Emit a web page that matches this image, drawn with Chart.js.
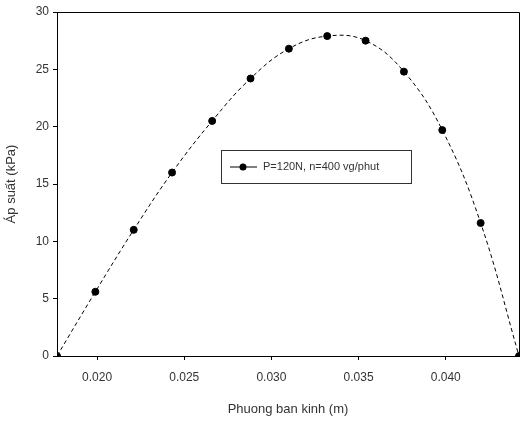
<!DOCTYPE html>
<html>
<head>
<meta charset="utf-8">
<script src="https://cdn.jsdelivr.net/npm/chart.js@4"></script>
<style>
  html, body { margin: 0; padding: 0; background: #fff; }
  #wrap { width: 524px; height: 421px; position: relative; }
</style>
</head>
<body>
<div id="wrap"><canvas id="c"></canvas></div>
<script>
// dữ liệu
const radius = [0.0177, 0.0199, 0.0221, 0.0243, 0.0266, 0.0288, 0.0310, 0.0332, 0.0354, 0.0376, 0.0398, 0.0420, 0.0442];
const pressure = [0, 5.6, 11.0, 16.0, 20.5, 24.2, 26.8, 27.9, 27.5, 24.8, 19.7, 11.6, 0];
const xTicks = [0.020, 0.025, 0.030, 0.035, 0.040];
const yTicks = [0, 5, 10, 15, 20, 25, 30];
const seriesLabel = 'P=120N, n=400 vg/phut';

const font = { family: 'Liberation Sans, Arial, sans-serif', size: 12 };

// khung trên/phải + chú thích
const framePlugin = {
    id: 'frame',
    afterDraw(chart) {
        const { ctx, chartArea: a } = chart;
        ctx.save();
        ctx.strokeStyle = '#000';
        ctx.lineWidth = 1;
        ctx.beginPath();
        ctx.moveTo(a.left, a.top + 0.5);
        ctx.lineTo(a.right + 0.5, a.top + 0.5);
        ctx.lineTo(a.right + 0.5, a.bottom);
        ctx.stroke();

        // legend box
        const bx = 221, by = 150, bw = 190, bh = 33;
        ctx.strokeStyle = '#333';
        ctx.strokeRect(bx + 0.5, by + 0.5, bw, bh);
        const ly = by + 17;
        ctx.strokeStyle = '#000';
        ctx.beginPath();
        ctx.moveTo(230, ly);
        ctx.lineTo(257, ly);
        ctx.stroke();
        ctx.fillStyle = '#000';
        ctx.beginPath();
        ctx.arc(243, ly, 3.5, 0, Math.PI * 2);
        ctx.fill();
        ctx.font = '11px ' + font.family;
        ctx.fillStyle = '#333';
        ctx.textBaseline = 'middle';
        ctx.fillText(seriesLabel, 263, ly);
        ctx.restore();
    }
};

new Chart(document.getElementById('c'), {
    type: 'scatter',
    data: {
        datasets: [{
            label: seriesLabel,
            data: radius.map((r, i) => ({ x: r, y: pressure[i] })),
            showLine: true,
            borderColor: '#000',
            borderWidth: 1,
            borderDash: [4, 3],
            tension: 0.4,
            pointRadius: 3.5,
            pointBackgroundColor: '#000',
            pointBorderColor: '#000'
        }]
    },
    options: {
        responsive: true,
        maintainAspectRatio: false,
        animation: false,
        layout: { padding: { top: 12, right: 3, left: 0, bottom: 0 } },
        plugins: { legend: { display: false }, tooltip: { enabled: false } },
        scales: {
            x: {
                type: 'linear',
                min: 0.0177,
                max: 0.0442,
                afterBuildTicks: s => { s.ticks = xTicks.map(v => ({ value: v })); },
                afterFit: s => { s.height = 65; },
                border: { color: '#000', width: 1 },
                grid: { drawOnChartArea: false, drawTicks: true, tickLength: 4, color: '#000' },
                ticks: { color: '#333', font, padding: 10, maxRotation: 0, callback: v => v.toFixed(3) },
                title: { display: true, text: 'Phuong ban kinh (m)', color: '#333', font: { ...font, size: 13 }, padding: { top: 8 } }
            },
            y: {
                min: 0,
                max: 30,
                afterBuildTicks: s => { s.ticks = yTicks.map(v => ({ value: v })); },
                afterFit: s => { s.width = 57; },
                border: { color: '#000', width: 1 },
                grid: { drawOnChartArea: false, drawTicks: true, tickLength: 4, color: '#000' },
                ticks: { color: '#333', font, padding: 4 },
                title: { display: true, text: 'Áp suất (kPa)', color: '#333', font: { ...font, size: 13 }, padding: { bottom: 6 } }
            }
        }
    },
    plugins: [framePlugin]
});
</script>
</body>
</html>
